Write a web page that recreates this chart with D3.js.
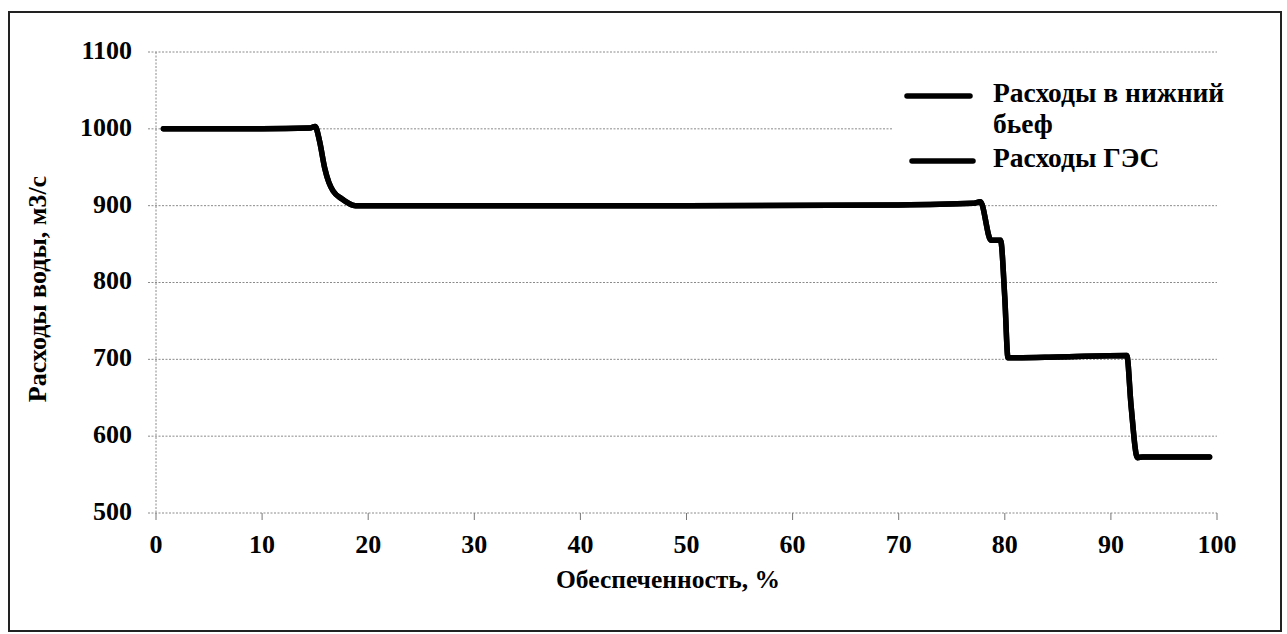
<!DOCTYPE html>
<html><head><meta charset="utf-8">
<script src="https://cdn.jsdelivr.net/npm/d3@7"></script>
<style>body{margin:0;background:#fff;} svg{display:block;} text{font-family:"Liberation Serif","Times New Roman",serif;font-weight:bold;}</style>
</head><body>
<svg id="c" width="1287" height="634"></svg>
<script>
const xTicks = [0,10,20,30,40,50,60,70,80,90,100];
const yTicks = [500,600,700,800,900,1000,1100];
const seriesNames = ["Расходы в нижний бьеф", "Расходы ГЭС"];
const supply = [0.7, 5, 10, 14.5, 15.0, 15.4, 15.9, 16.3, 16.7, 17.5, 18.8, 30, 50, 70, 77.0, 77.7, 78.7, 79.6, 80.0, 80.3, 85, 91.5, 91.9, 92.5, 93.0, 99.3];
const lowerPoolFlow = [1000, 1000, 1000, 1001, 1003, 985, 949, 930, 919, 909, 900, 900, 900, 901, 903, 905, 855, 855, 780, 702, 703, 705, 640, 572, 573, 573];
const hppFlow = [1000, 1000, 1000, 1001, 1003, 985, 949, 930, 919, 909, 900, 900, 900, 901, 903, 905, 855, 855, 780, 702, 703, 705, 640, 572, 573, 573];

const svg = d3.select("#c");
const x = d3.scaleLinear().domain([0,100]).range([156,1217]);
const y = d3.scaleLinear().domain([500,1100]).range([513,52]);

// outer frame
svg.append("rect").attr("x",9).attr("y",12).attr("width",1272).attr("height",619)
  .attr("fill","none").attr("stroke","#222").attr("stroke-width",2);

const gridStyle = s => s.attr("stroke","#8a8a8a").attr("stroke-width",1).attr("stroke-dasharray","2,1.5");

svg.append("g").selectAll("line").data(yTicks).join("line")
  .attr("x1",x(0)-8).attr("x2",x(100))
  .attr("y1",d=>y(d)).attr("y2",d=>y(d))
  .call(gridStyle);

svg.append("line").attr("x1",x(0)).attr("x2",x(0)).attr("y1",y(1100)).attr("y2",y(500)).call(gridStyle);

svg.append("g").selectAll("line").data(xTicks).join("line")
  .attr("x1",d=>x(d)).attr("x2",d=>x(d)).attr("y1",y(500)).attr("y2",y(500)+7)
  .attr("stroke","#777").attr("stroke-width",1);

svg.append("g").selectAll("text").data(yTicks).join("text")
  .attr("x",132).attr("y",d=>y(d)+1).attr("text-anchor","end").attr("dominant-baseline","middle")
  .attr("font-size",26)
  .text(d=>d);

svg.append("g").selectAll("text").data(xTicks).join("text")
  .attr("x",d=>x(d)).attr("y",547).attr("text-anchor","middle").attr("dominant-baseline","middle")
  .attr("font-size",26)
  .text(d=>d);

svg.append("text").attr("transform","translate(40,289) rotate(-90)")
  .attr("text-anchor","middle").attr("dominant-baseline","middle")
  .attr("font-size",26)
  .text("Расходы воды, м3/с");
svg.append("text").attr("x",668).attr("y",582)
  .attr("text-anchor","middle").attr("dominant-baseline","middle")
  .attr("font-size",25.5)
  .text("Обеспеченность, %");

const line = d3.line().x(d=>x(d[0])).y(d=>y(d[1])).curve(d3.curveMonotoneX);
[lowerPoolFlow, hppFlow].forEach(vals=>{
  svg.append("path").datum(supply.map((s,i)=>[s, vals[i]]))
    .attr("d",line).attr("fill","none").attr("stroke","#000")
    .attr("stroke-width",5.5).attr("stroke-linejoin","round").attr("stroke-linecap","round");
});

const lg = svg.append("g");
lg.append("rect").attr("x",893).attr("y",72).attr("width",345).attr("height",112).attr("fill","#fff");
const legendRows = [
  {name: seriesNames[0], lines:["Расходы в нижний","бьеф"], y:96, x1:907, x2:970},
  {name: seriesNames[1], lines:["Расходы ГЭС"], y:161, x1:912, x2:973}
];
legendRows.forEach(r=>{
  lg.append("line").attr("x1",r.x1).attr("x2",r.x2).attr("y1",r.y).attr("y2",r.y)
    .attr("stroke","#000").attr("stroke-width",5.5).attr("stroke-linecap","round");
  r.lines.forEach((t,i)=>{
    lg.append("text").attr("x",993).attr("y",r.y+i*31).attr("dominant-baseline","middle")
      .attr("font-size",27.5).text(t);
  });
});
</script>
</body></html>
